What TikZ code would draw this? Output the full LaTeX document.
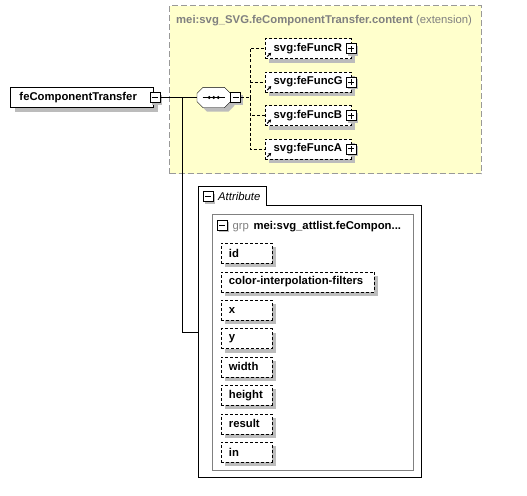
\documentclass[tikz,border=0pt]{standalone}
\usepackage{fontspec}
\setmainfont{Liberation Sans}
\usepackage{tikz}
\usetikzlibrary{
  arrows.meta,
  positioning,
  shadows
}
\definecolor{amarelo}{RGB}{255,255,204}
\definecolor{borda}{RGB}{153,153,153}
\definecolor{sombracor}{RGB}{188,188,188}
\definecolor{cinza}{RGB}{128,128,128}
\newcommand{\fonte}{\fontsize{11.3}{13.5}\selectfont}

\begin{document}
\begin{tikzpicture}[
    x=1pt,y=-1pt,
    sombra/.style={
    drop shadow={shadow xshift=4pt,shadow yshift=-4pt,
    fill=sombracor,opacity=1}
    },
    caixa/.style={
    draw,
    fill=white,
    sombra,
    minimum height=20pt,
    inner ysep=0pt,
    align=left,
    font=\fonte\bfseries
    },
    elemento/.style={
    caixa,
    dash pattern=on 3pt off 2pt,
    text width=69pt,
    inner xsep=8.5pt,
    path picture={
    \draw[solid,line width=1pt,-{Stealth[length=3pt,width=3.5pt]}]
    ([shift={(2pt,2pt)}]path picture bounding box.south west)
    -- ++(4pt,4pt);}
    },
    atributo/.style={
    caixa,
    dash pattern=on 3pt off 2pt,
    text width=35pt,
    inner xsep=8pt
    },
    menos/.style={
    draw,
    solid,
    fill=white,
    drop shadow={shadow xshift=2pt,shadow yshift=-2pt,
    fill=sombracor,opacity=1},
    minimum size=10pt,
    inner sep=0pt,
    path picture={
    \draw[line width=1pt]
    ([xshift=2pt]path picture bounding box.west)
    -- ([xshift=-2pt]path picture bounding box.east);}
    },
    mais/.style={
    menos,
    path picture={
    \draw[line width=1pt]
    ([xshift=2pt]path picture bounding box.west)
    -- ([xshift=-2pt]path picture bounding box.east);
    \draw[line width=1pt]
    ([yshift=2pt]path picture bounding box.south)
    -- ([yshift=-2pt]path picture bounding box.north);}
    },
    linha/.style={line width=0.8pt},
    tracejado/.style={line width=0.8pt,dash pattern=on 3pt off 2pt}
    ]

    \useasboundingbox (0,0) rectangle (527,495);

    % extension content
    \node[draw=borda,fill=amarelo,line width=1pt,
    dash pattern=on 6pt off 3pt,
    minimum width=311.7pt,minimum height=168pt,
    anchor=north west] (ext) at (169,5.3) {};
    \node[anchor=base west,inner sep=0pt,text=cinza,font=\fonte]
    (ext-t) at (176,23.3)
    {\textbf{mei:svg\_SVG.feComponentTransfer.content} (extension)};

    % root element
    \node[caixa,text width=125pt,inner xsep=9pt,anchor=west]
    (ct) at (10.3,97.5) {feComponentTransfer};
    \node[menos] (ct-m) at ([xshift=1pt]ct.east) {};

    % sequence
    \node[minimum width=33pt,minimum height=20pt,inner sep=0pt,
    anchor=west] (seq) at (197,97.5) {};
    \draw[fill=white,sombra]
    ([xshift=6pt]seq.north west) -- ([xshift=-6pt]seq.north east)
    -- ([yshift=-6pt]seq.north east) -- ([yshift=6pt]seq.south east)
    -- ([xshift=-6pt]seq.south east) -- ([xshift=6pt]seq.south west)
    -- ([yshift=6pt]seq.south west) -- ([yshift=-6pt]seq.north west)
    -- cycle;
    \draw ([xshift=-11pt]seq.center) -- ([xshift=11pt]seq.center);
    \fill ([xshift=-4.5pt]seq.center) circle (1.6pt);
    \fill (seq.center) circle (1.6pt);
    \fill ([xshift=4.5pt]seq.center) circle (1.6pt);
    \node[menos,anchor=west] (seq-m) at (seq.east) {};
    \coordinate (fork) at (250,97.5);
    \coordinate (jun) at (182,97.5);

    % children
    \node[elemento,anchor=west] (e-r) at (265,48.7) {svg:feFuncR};
    \node[elemento,below=13pt of e-r] (e-g) {svg:feFuncG};
    \node[elemento,below=13pt of e-g] (e-b) {svg:feFuncB};
    \node[elemento,below=13pt of e-b] (e-a) {svg:feFuncA};

    \draw[linha] (ct-m.east) -- (seq.west);
    \draw[tracejado] (seq-m.east) -- (fork);
    \draw[tracejado] (fork) |- (e-r.west);
    \draw[tracejado] (fork) |- (e-g.west);
    \draw[tracejado] (fork) |- (e-b.west);
    \draw[tracejado] (fork) |- (e-a.west);

    \node[mais] (e-r-m) at (e-r.east) {};
    \node[mais] (e-g-m) at (e-g.east) {};
    \node[mais] (e-b-m) at (e-b.east) {};
    \node[mais] (e-a-m) at (e-a.east) {};

    % attributes
    \coordinate (attr-in) at (198,332);
    \draw[linha] (jun) |- (attr-in);
    \draw[linha] (198,477.7) -- (198,186) -- (266.7,186)
    -- (266.7,205) -- (421,205) -- (421,477.7) -- cycle;
    \node[menos] (attr-m) at (208.3,196.5) {};
    \node[anchor=base west,inner sep=0pt,font=\fonte\itshape]
    (attr-t) at (218,200) {Attribute};

    \draw[cinza,line width=0.8pt] (212.3,214.3) rectangle (413.3,470.7);
    \node[menos] (grp-m) at (222.3,225.2) {};
    \node[anchor=base west,inner sep=0pt,text=cinza,font=\fonte]
    (grp-t) at (232.3,229) {grp};
    \node[anchor=base west,inner sep=0pt,font=\fonte\bfseries]
    (grp-n) at (253.3,229) {mei:svg\_attlist.feCompon...};

    \node[atributo,anchor=west] (a-id) at (220.7,253.3) {id};
    \node[atributo,text width=137.3pt,
    below right=8pt and 0pt of a-id.south west]
    (a-cif) {color-interpolation-filters};
    \node[atributo,below right=8pt and 0pt of a-cif.south west]
    (a-x) {x};
    \node[atributo,below=8pt of a-x] (a-y) {y};
    \node[atributo,below=8pt of a-y] (a-width) {width};
    \node[atributo,below=8pt of a-width] (a-height) {height};
    \node[atributo,below=8pt of a-height] (a-result) {result};
    \node[atributo,below=8pt of a-result] (a-in) {in};

    \end{tikzpicture}
\end{document}
